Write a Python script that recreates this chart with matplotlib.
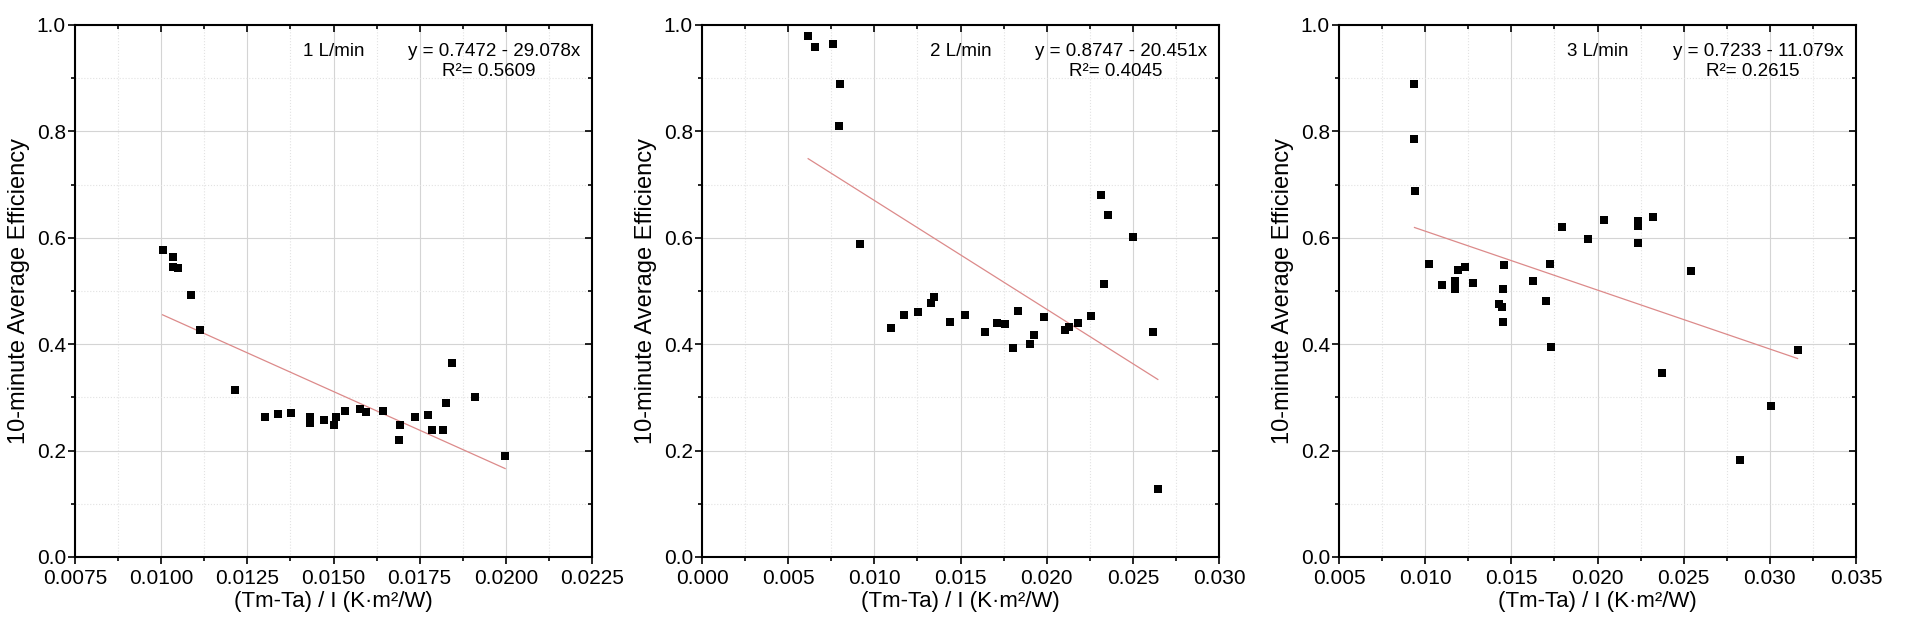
import numpy as np
import matplotlib
matplotlib.use("Agg")
from matplotlib import pyplot as plt
from matplotlib.ticker import MultipleLocator, FormatStrFormatter

plt.rcParams['font.family'] = ['Liberation Sans', 'DejaVu Sans']

# 1 L/min
x1 = [0.01004, 0.01033, 0.01033, 0.01048, 0.01086, 0.01113, 0.01214, 0.01302, 0.01340,
      0.01376, 0.01431, 0.01431, 0.01473, 0.01501, 0.01508, 0.01532, 0.01576, 0.01593,
      0.01645, 0.01689, 0.01693, 0.01736, 0.01775, 0.01786, 0.01818, 0.01825, 0.01843,
      0.01910, 0.01998]
y1 = [0.578, 0.563, 0.546, 0.543, 0.492, 0.426, 0.314, 0.263, 0.269,
      0.271, 0.264, 0.251, 0.257, 0.248, 0.263, 0.274, 0.278, 0.272,
      0.274, 0.220, 0.248, 0.263, 0.267, 0.238, 0.238, 0.290, 0.365,
      0.301, 0.189]

# 2 L/min
x2 = [0.00616, 0.00654, 0.00763, 0.00803, 0.00796, 0.00917, 0.01097, 0.01173, 0.01254,
      0.01327, 0.01346, 0.01441, 0.01528, 0.01642, 0.01711, 0.01761, 0.01806, 0.01832,
      0.01905, 0.01929, 0.01986, 0.02104, 0.02130, 0.02182, 0.02258, 0.02318, 0.02355,
      0.02332, 0.02500, 0.02618, 0.02645]
y2 = [0.980, 0.958, 0.965, 0.889, 0.810, 0.589, 0.431, 0.454, 0.461,
      0.478, 0.488, 0.442, 0.454, 0.423, 0.439, 0.438, 0.392, 0.462,
      0.400, 0.417, 0.451, 0.426, 0.433, 0.440, 0.453, 0.681, 0.642,
      0.513, 0.602, 0.423, 0.128]

# 3 L/min
x3 = [0.00938, 0.00938, 0.00943, 0.01021, 0.01097, 0.01173, 0.01173, 0.01190, 0.01230,
      0.01280, 0.01427, 0.01445, 0.01450, 0.01453, 0.01457, 0.01628, 0.01699, 0.01727,
      0.01730, 0.01792, 0.01943, 0.02040, 0.02235, 0.02235, 0.02235, 0.02322, 0.02377,
      0.02543, 0.02825, 0.03005, 0.03161]
y3 = [0.889, 0.786, 0.688, 0.551, 0.512, 0.518, 0.504, 0.540, 0.546,
      0.515, 0.475, 0.469, 0.503, 0.442, 0.549, 0.519, 0.482, 0.551,
      0.395, 0.620, 0.597, 0.634, 0.631, 0.622, 0.591, 0.640, 0.346,
      0.537, 0.183, 0.284, 0.389]

flows = ['1 L/min', '2 L/min', '3 L/min']
intercepts = [0.7472, 0.8747, 0.7233]
slopes = [-29.078, -20.451, -11.079]
r2 = [0.5609, 0.4045, 0.2615]
xlims = [(0.0075, 0.0225), (0.0, 0.030), (0.005, 0.035)]
xsteps = [0.0025, 0.005, 0.005]
xfmts = ['%.4f', '%.3f', '%.3f']

fig = plt.figure(figsize=(19.1, 6.3), dpi=100)
lefts = [75 / 1910, 702 / 1910, 1339 / 1910]
w = 517 / 1910
b = 73 / 630
h = 532 / 630

data = [(x1, y1), (x2, y2), (x3, y3)]
for i, (xs, ys) in enumerate(data):
    ax = fig.add_axes([lefts[i], b, w, h])
    ax.set_xlim(*xlims[i])
    ax.set_ylim(0, 1.0)
    ax.xaxis.set_major_locator(MultipleLocator(xsteps[i]))
    ax.xaxis.set_minor_locator(MultipleLocator(xsteps[i] / 2))
    ax.xaxis.set_major_formatter(FormatStrFormatter(xfmts[i]))
    ax.yaxis.set_major_locator(MultipleLocator(0.2))
    ax.yaxis.set_minor_locator(MultipleLocator(0.1))
    ax.yaxis.set_major_formatter(FormatStrFormatter('%.1f'))

    ax.grid(which='major', color='#d4d4d4', linewidth=0.8, linestyle='-')
    ax.grid(which='minor', color='#e2e2e2', linewidth=0.8, linestyle=':')
    ax.set_axisbelow(True)

    # fitted line over the data range
    xf = np.array([min(xs), max(xs)])
    ax.plot(xf, intercepts[i] + slopes[i] * xf, color='#dc8a8a', linewidth=0.9, zorder=2)
    ax.scatter(xs, ys, marker='s', s=32, color='black', zorder=3, linewidths=0)

    for sp in ax.spines.values():
        sp.set_linewidth(1.5)
    ax.tick_params(which='both', labelsize=15, width=1.2)
    ax.tick_params(which='major', length=5)
    ax.tick_params(which='minor', length=3)
    ax.tick_params(axis='x', pad=3.5)
    ax.tick_params(axis='y', pad=1.5)
    # inward ticks on top and right
    ax.tick_params(which='both', top=True, right=True, labeltop=False, labelright=False)
    ax.xaxis.set_tick_params(which='both', direction='out')
    ax.yaxis.set_tick_params(which='both', direction='out')
    for t in ax.xaxis.get_major_ticks() + ax.xaxis.get_minor_ticks():
        t.tick2line.set_marker(3)
    for t in ax.yaxis.get_major_ticks() + ax.yaxis.get_minor_ticks():
        t.tick2line.set_marker(0)

    ax.set_xlabel('(Tm-Ta) / I (K·m²/W)', fontsize=16, labelpad=2)
    ax.set_ylabel('10-minute Average Efficiency', fontsize=17, labelpad=5)

    ax.text(0.50, 0.951, flows[i], transform=ax.transAxes, fontsize=13.5,
            ha='center', va='center')
    ax.text(0.81, 0.951, 'y = %.4f - %.3fx' % (intercepts[i], -slopes[i]),
            transform=ax.transAxes, fontsize=13.5, ha='center', va='center')
    ax.text(0.80, 0.912, 'R²= %.4f' % r2[i], transform=ax.transAxes,
            fontsize=13.5, ha='center', va='center')

fig.savefig('out.png', dpi=100)
